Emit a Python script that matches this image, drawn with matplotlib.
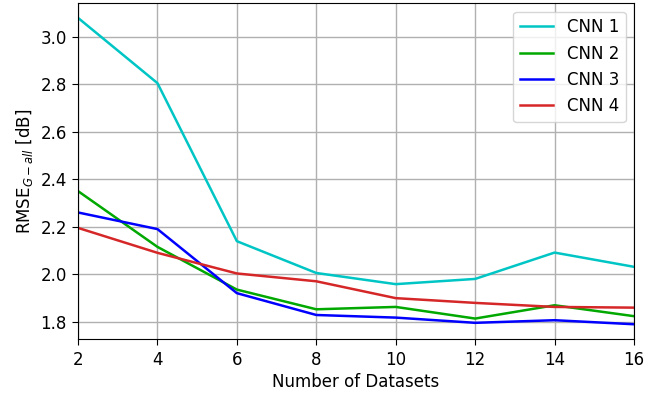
import matplotlib
matplotlib.use("Agg")
import matplotlib.pyplot as plt

# Число датасетов
datasets = [2, 4, 6, 8, 10, 12, 14, 16]

# RMSE для каждой сети
cnn1 = [3.08, 2.805, 2.139, 2.005, 1.958, 1.980, 2.091, 2.031]
cnn2 = [2.350, 2.115, 1.935, 1.852, 1.862, 1.813, 1.869, 1.823]
cnn3 = [2.260, 2.190, 1.920, 1.828, 1.817, 1.795, 1.806, 1.789]
cnn4 = [2.195, 2.090, 2.003, 1.970, 1.899, 1.879, 1.862, 1.859]

labels = ['CNN 1', 'CNN 2', 'CNN 3', 'CNN 4']
colors = ['#00c5c5', '#00a800', '#0000ff', '#d62728']

fig = plt.figure(figsize=(6.67, 3.97), dpi=100)
ax = fig.add_axes([0.117, 0.145, 0.8335, 0.847])

for ys, lab, col in zip([cnn1, cnn2, cnn3, cnn4], labels, colors):
    ax.plot(datasets, ys, color=col, linewidth=1.8, label=lab)

ax.set_xlim(2, 16)
ax.set_ylim(1.725, 3.142)
ax.set_xticks(datasets)
ax.set_yticks([1.8, 2.0, 2.2, 2.4, 2.6, 2.8, 3.0])
ax.tick_params(labelsize=12, length=4.5)
ax.grid(True, color='#b0b0b0', linewidth=1.0)
ax.set_axisbelow(True)

ax.set_xlabel('Number of Datasets', fontsize=12, labelpad=3)
ax.set_ylabel('RMSE$_{G-all}$ [dB]', fontsize=12)
ax.legend(loc='upper right', fontsize=12)

fig.savefig('out.png', dpi=100)
plt.close(fig)
